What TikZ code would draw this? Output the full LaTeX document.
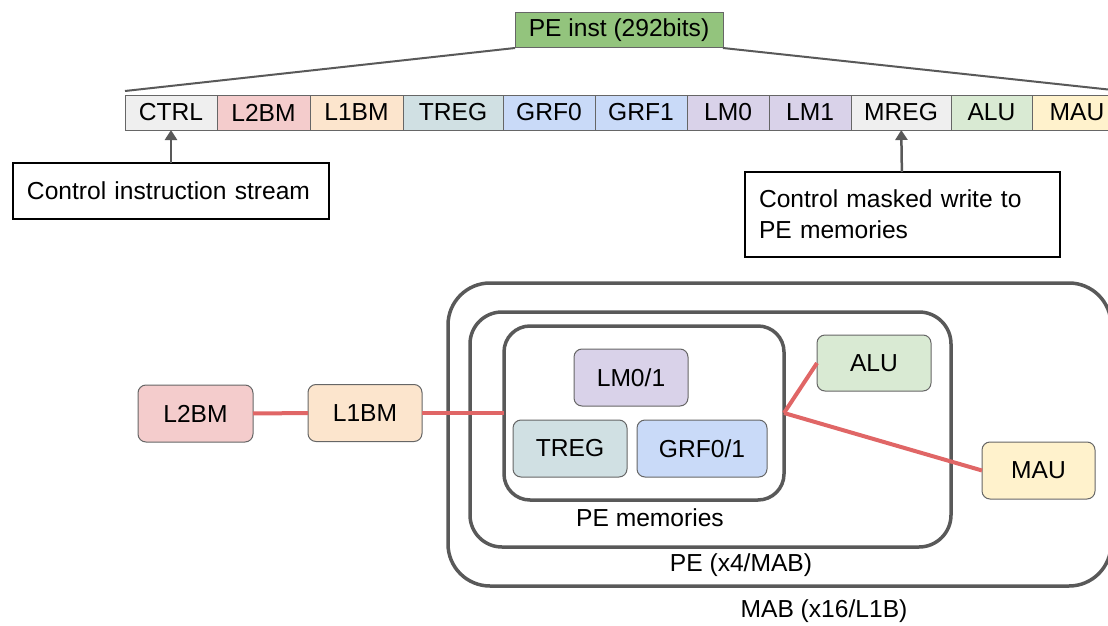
\documentclass[tikz,border=0pt]{standalone}
\usepackage{xcolor}
\usepackage{fontspec}
\setmainfont{Liberation Sans}
\usepackage{tikz}
\usetikzlibrary{shapes,arrows.meta,positioning}

\definecolor{ctrlgray}{HTML}{EFEFEF}
\definecolor{l2red}{HTML}{F4CCCC}
\definecolor{l1orange}{HTML}{FCE5CD}
\definecolor{tregcyan}{HTML}{D0E0E3}
\definecolor{grfblue}{HTML}{C9DAF8}
\definecolor{lmpurple}{HTML}{D9D2E9}
\definecolor{alugreen}{HTML}{D9EAD3}
\definecolor{mauyellow}{HTML}{FFF2CC}
\definecolor{instgreen}{HTML}{93C47D}
\definecolor{fieldline}{HTML}{666666}
\definecolor{boxgray}{HTML}{595959}
\definecolor{busred}{HTML}{E06666}

\begin{document}
\begin{tikzpicture}[x=1pt, y=-1pt, font=\fontsize{24.6}{31}\selectfont]
    % Define styles
    \tikzstyle{field} = [rectangle, draw=fieldline, line width=1pt, minimum height=35pt, inner sep=0pt, outer sep=0pt]
    \tikzstyle{block} = [rectangle, rounded corners=8pt, draw=fieldline, line width=1pt, minimum width=114pt, minimum height=57pt, inner sep=0pt, outer sep=0pt]
    \tikzstyle{group} = [rectangle, draw=boxgray, line width=3.5pt, inner sep=0pt, outer sep=0pt]
    \tikzstyle{note} = [rectangle, draw=black, line width=2.5pt, align=left, inner xsep=14pt, outer sep=0pt]
    \tikzstyle{arrow} = [line width=2.5pt, draw=boxgray, -{Triangle[length=10pt, width=12pt]}]
    \tikzstyle{fan} = [line width=2pt, draw=boxgray]
    \tikzstyle{bus} = [line width=4pt, draw=busred]

    \useasboundingbox (0,0) rectangle (1108,626);

    % Instruction word and its fields
    \node [field, fill=instgreen, minimum width=208pt] (inst) at (619,30.5) {PE inst (292bits)};
    \node [field, fill=ctrlgray, minimum width=92pt] (ctrl) at (171,112.5) {CTRL};
    \node [field, fill=l2red, minimum width=93pt, right=0pt of ctrl] (l2bm) {L2BM};
    \node [field, fill=l1orange, minimum width=93pt, right=0pt of l2bm] (l1bm) {L1BM};
    \node [field, fill=tregcyan, minimum width=100pt, right=0pt of l1bm] (treg) {TREG};
    \node [field, fill=grfblue, minimum width=92pt, right=0pt of treg] (grf0) {GRF0};
    \node [field, fill=grfblue, minimum width=92pt, right=0pt of grf0] (grf1) {GRF1};
    \node [field, fill=lmpurple, minimum width=82pt, right=0pt of grf1] (lm0) {LM0};
    \node [field, fill=lmpurple, minimum width=82pt, right=0pt of lm0] (lm1) {LM1};
    \node [field, fill=ctrlgray, minimum width=100pt, right=0pt of lm1] (mreg) {MREG};
    \node [field, fill=alugreen, minimum width=81pt, right=0pt of mreg] (alu) {ALU};
    \node [field, fill=mauyellow, minimum width=90pt, right=0pt of alu] (mau) {MAU};

    \draw [fan] (inst.south west) -- ([yshift=4pt]ctrl.north west);
    \draw [fan] (inst.south east) -- ([yshift=4pt]mau.north east);

    % Notes on the control fields
    \node [note, text width=288pt, minimum height=56pt] (ctrlnote) at (171,191) {Control instruction stream};
    \node [note, text width=287pt, minimum height=85pt] (mregnote) at (902.5,214.5) {Control masked write to\\PE memories};
    \draw [arrow] (ctrlnote) -- (ctrl);
    \draw [arrow] (mregnote) -- (mreg);

    % Nested containers
    \node [group, rounded corners=42pt, minimum width=663pt, minimum height=303pt] (mab) at (779.5,434.5) {};
    \node [group, rounded corners=32pt, minimum width=481pt, minimum height=235pt] (pe) at (710.5,429.5) {};
    \node [group, rounded corners=26pt, minimum width=280pt, minimum height=174pt] (pemem) at (644,413) {};
    \node (pememlabel) at (650,518) {PE memories};
    \node (pelabel) at (741,565) {PE (x4/MAB)};
    \node (mablabel) at (824,611) {MAB (x16/L1B)};

    % Memories and units
    \node [block, fill=l2red, minimum width=115pt] (l2bmblk) at (195.5,413.5) {L2BM};
    \node [block, fill=l1orange] (l1bmblk) at (365,413) {L1BM};
    \node [block, fill=lmpurple] (lmblk) at (631,377.5) {LM0/1};
    \node [block, fill=tregcyan] (tregblk) at (570,448.5) {TREG};
    \node [block, fill=grfblue, minimum width=130pt] (grfblk) at (702,448.5) {GRF0/1};
    \node [block, fill=alugreen, minimum height=56pt] (alublk) at (874,363) {ALU};
    \node [block, fill=mauyellow, minimum width=113pt] (maublk) at (1038.5,470.5) {MAU};

    % Data paths
    \draw [bus] (l2bmblk) -- (l1bmblk);
    \draw [bus] (l1bmblk) -- (pemem);
    \draw [bus] (pemem.east) -- (alublk.west);
    \draw [bus] (pemem.east) -- (maublk.west);
\end{tikzpicture}
\end{document}
